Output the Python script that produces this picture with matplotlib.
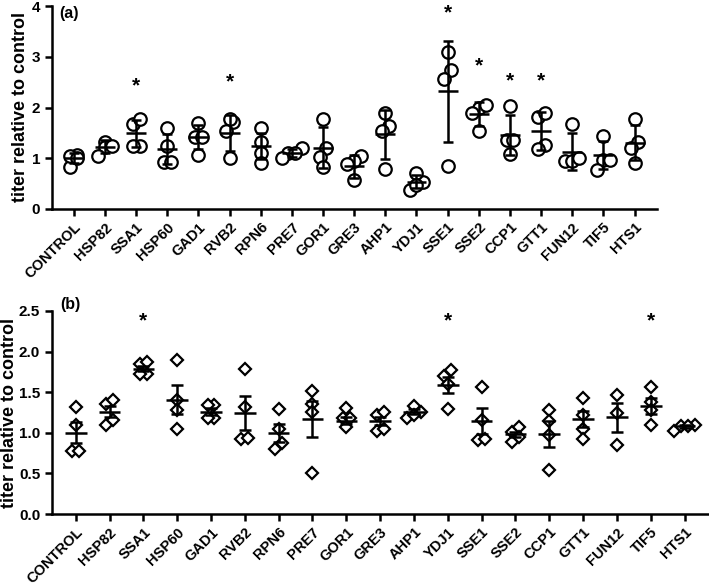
import numpy as np
import matplotlib
matplotlib.use('Agg')
import matplotlib.pyplot as plt

plt.rcParams['font.family'] = ['Liberation Sans', 'DejaVu Sans']
plt.rcParams['font.weight'] = 'bold'

genes = ['CONTROL', 'HSP82', 'SSA1', 'HSP60', 'GAD1', 'RVB2', 'RPN6', 'PRE7',
         'GOR1', 'GRE3', 'AHP1', 'YDJ1', 'SSE1', 'SSE2', 'CCP1', 'GTT1',
         'FUN12', 'TIF5', 'HTS1']

# panel (a): individual replicates, mean and SD
a_points = [
    [1.07, 0.83, 1.05, 1.00],
    [1.33, 1.23, 1.24, 1.04],
    [1.67, 1.77, 1.25, 1.25],
    [1.60, 0.93, 0.93, 1.25],
    [1.70, 1.42, 1.42, 1.06],
    [1.71, 1.77, 1.54, 1.00],
    [1.59, 1.33, 1.10, 0.90],
    [1.20, 1.10, 1.10, 1.00],
    [1.20, 1.78, 1.03, 0.83],
    [1.05, 0.95, 0.88, 0.57],
    [1.90, 1.64, 1.54, 0.78],
    [0.54, 0.37, 0.70, 0.47],
    [3.10, 2.74, 2.56, 0.85],
    [2.00, 2.05, 1.89, 1.54],
    [2.02, 1.36, 1.36, 1.08],
    [1.81, 1.90, 1.27, 1.18],
    [1.67, 0.95, 0.95, 1.00],
    [1.44, 0.97, 0.97, 0.77],
    [1.77, 1.33, 1.20, 0.91],
]
a_mean = [1.00, 1.23, 1.49, 1.18, 1.42, 1.50, 1.24, 1.11, 1.21, 0.84, 1.47,
          0.54, 2.32, 1.87, 1.46, 1.54, 1.13, 1.06, 1.31]
a_err = [0.10, 0.12, 0.27, 0.29, 0.23, 0.35, 0.26, 0.08, 0.40, 0.22, 0.48,
         0.13, 1.00, 0.23, 0.40, 0.37, 0.36, 0.28, 0.34]
a_star_idx = [2, 5, 12, 13, 14, 15]
a_star_y = [2.42, 2.51, 3.87, 2.82, 2.53, 2.53]

# panel (b): individual replicates, mean and SEM
b_points = [
    [1.32, 1.10, 0.77, 0.78],
    [1.36, 1.40, 1.10, 1.16],
    [1.85, 1.87, 1.73, 1.73],
    [1.90, 1.40, 1.28, 1.05],
    [1.34, 1.34, 1.18, 1.18],
    [1.79, 1.32, 0.92, 0.94],
    [1.29, 1.05, 0.80, 0.87],
    [1.51, 1.36, 1.26, 0.51],
    [1.31, 1.18, 1.18, 1.07],
    [1.22, 1.26, 1.02, 1.05],
    [1.18, 1.33, 1.26, 1.22],
    [1.70, 1.77, 1.60, 1.29],
    [1.57, 0.91, 0.92, 1.16],
    [1.01, 1.07, 0.89, 0.95],
    [1.28, 1.14, 0.97, 0.54],
    [1.43, 1.22, 1.05, 0.92],
    [1.47, 1.24, 0.85],
    [1.56, 1.38, 1.28, 1.10],
    [1.02, 1.10, 1.08, 1.08],
]
b_mean = [1.00, 1.26, 1.79, 1.41, 1.26, 1.24, 1.00, 1.17, 1.15, 1.14, 1.26,
          1.59, 1.15, 0.98, 0.99, 1.17, 1.19, 1.33, 1.08]
b_err = [0.13, 0.07, 0.03, 0.18, 0.04, 0.21, 0.11, 0.22, 0.04, 0.05, 0.03,
         0.10, 0.16, 0.03, 0.16, 0.10, 0.18, 0.10, 0.02]
b_star_idx = [2, 11, 17]
b_star_y = [2.38, 2.38, 2.38]


def swarm_offsets(vals, d):
    # group nearby values into rows and spread each row around the centre
    order = np.argsort(vals)
    offs = np.zeros(len(vals))
    row = [order[0]]
    rows = []
    for k in order[1:]:
        if vals[k] - vals[row[0]] < d:
            row.append(k)
        else:
            rows.append(row)
            row = [k]
    rows.append(row)
    for r in rows:
        n = len(r)
        for j, k in enumerate(r):
            offs[k] = (j - (n - 1) / 2)
    return offs


def draw_panel(ax, points, mean, err, star_idx, star_y, marker, ms, dy, dx,
               half, cap):
    for i, vals in enumerate(points):
        vals = np.array(vals)
        offs = swarm_offsets(vals, dy) * dx
        ax.plot(i + offs, vals, linestyle='none', marker=marker, ms=ms,
                mfc='white', mec='black', mew=1.6, zorder=2)
    x = np.arange(len(mean))
    ax.errorbar(x, mean, yerr=err, fmt='none', ecolor='black', elinewidth=1.8,
                capsize=cap, capthick=1.8, zorder=3)
    ax.hlines(mean, x - half, x + half, colors='black', linewidth=1.8, zorder=3)
    for i, y in zip(star_idx, star_y):
        ax.text(i, y, '*', ha='center', va='center', fontsize=15,
                fontweight='bold')
    ax.set_xticks(x)
    ax.set_xticklabels(genes, rotation=45, ha='right', va='top',
                       rotation_mode='anchor', fontsize=10.5)
    ax.set_xlim(-0.7, len(mean) - 1 + 0.72)
    for s in ['top', 'right']:
        ax.spines[s].set_visible(False)
    for s in ['left', 'bottom']:
        ax.spines[s].set_linewidth(1.8)
    ax.tick_params(direction='out', length=5, width=1.8, labelsize=11)
    ax.tick_params(axis='x', labelsize=10.5, pad=3)
    ax.set_ylabel('titer relative to control', fontsize=13, fontweight='bold')


fig = plt.figure(figsize=(7.09, 5.88), dpi=100)
ax_a = fig.add_axes([52 / 709, 1 - 209 / 588, 605 / 709, 203 / 588])
ax_b = fig.add_axes([52 / 709, 1 - 514 / 588, 657 / 709, 203 / 588])

ax_a.set_ylim(0, 4)
ax_a.set_yticks([0, 1, 2, 3, 4])
draw_panel(ax_a, a_points, a_mean, a_err, a_star_idx, a_star_y,
           'o', 9, 0.2, 0.22, 0.32, 3.6)
ax_a.yaxis.set_label_coords(-(52 - 29) / 605, 0.5)
ax_a.text(0.012, 1.0, '(a)', transform=ax_a.transAxes, ha='left', va='top',
          fontsize=11.5, fontweight='bold')

ax_b.set_ylim(0, 2.5)
ax_b.set_yticks([0.0, 0.5, 1.0, 1.5, 2.0, 2.5])
ax_b.set_yticklabels(['0.0', '0.5', '1.0', '1.5', '2.0', '2.5'])
draw_panel(ax_b, b_points, b_mean, b_err, b_star_idx, b_star_y,
           'D', 6, 0.09, 0.2, 0.32, 4.3)
ax_b.yaxis.set_label_coords(-(52 - 18) / 657, 0.5)
ax_b.text(0.012, 1.03, '(b)', transform=ax_b.transAxes, ha='left', va='center',
          fontsize=11.5, fontweight='bold')

fig.savefig('out.png', dpi=100)
